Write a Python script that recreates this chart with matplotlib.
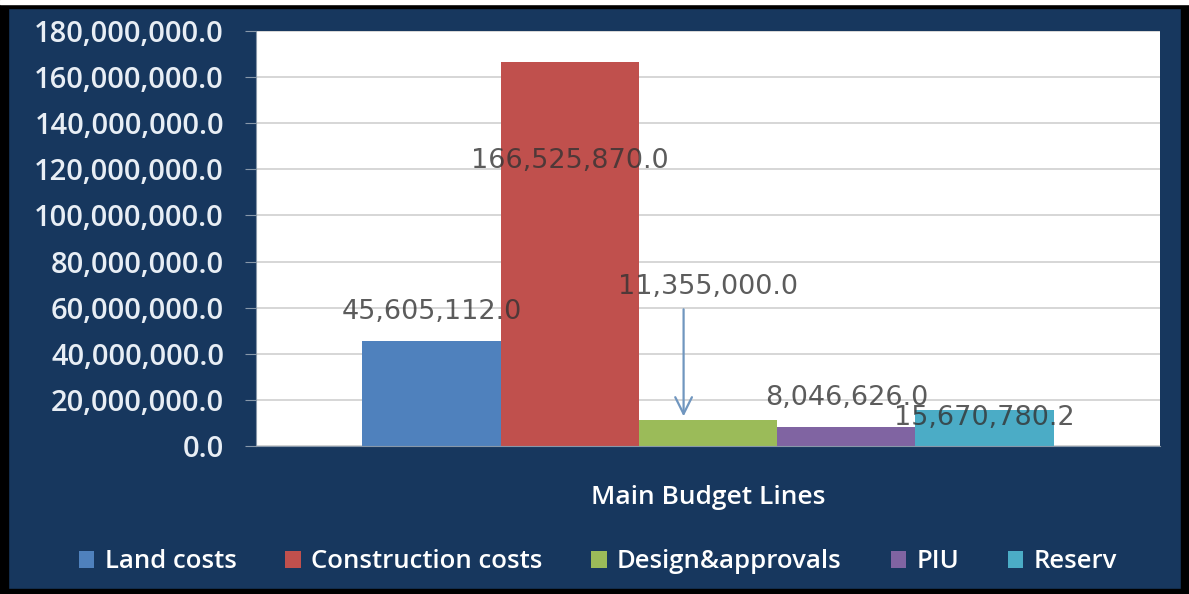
import matplotlib.pyplot as plt
from matplotlib.patches import Rectangle
from matplotlib.ticker import FuncFormatter

# Budget lines and amounts
categorias = ["Land costs", "Construction costs", "Design&approvals", "PIU", "Reserv"]
montos = [45605112.0, 166525870.0, 11355000.0, 8046626.0, 15670780.2]
colores = ["#4f81bd", "#c0504d", "#9bbb59", "#8064a2", "#4bacc6"]
grupo = "Main Budget Lines"

# height where each value label sits
altura_etiqueta = [58e6, 123.8e6, 68.8e6, 20.8e6, 12.1e6]

fondo = "#17375e"
W, H = 1189, 594

fig = plt.figure(figsize=(W / 100, H / 100), dpi=100)
fig.patch.set_facecolor(fondo)

# black frame and white strip on top
fig.patches.append(Rectangle((0, 0), 8 / W, 1, transform=fig.transFigure, color="black", zorder=0))
fig.patches.append(Rectangle((1181 / W, 0), 8 / W, 1, transform=fig.transFigure, color="black", zorder=0))
fig.patches.append(Rectangle((0, 0), 1, 5 / H, transform=fig.transFigure, color="black", zorder=0))
fig.patches.append(Rectangle((0, 1 - 8 / H), 1, 8 / H, transform=fig.transFigure, color="black", zorder=0))
fig.patches.append(Rectangle((0, 1 - 4 / H), 1, 4 / H, transform=fig.transFigure, color="white", zorder=0))

ax = fig.add_axes([256 / W, 1 - 446 / H, 904 / W, 415 / H])
ax.set_facecolor("white")

ancho = 0.153
for i in range(len(categorias)):
    x = (i - 2) * ancho
    ax.bar(x, montos[i], width=ancho, color=colores[i], label=categorias[i], zorder=2)
    ax.text(x, altura_etiqueta[i], f"{montos[i]:,.1f}", ha="center", va="center",
            fontsize=19.5, color="#333333", alpha=0.8, zorder=4, family="DejaVu Sans")

# arrow pointing to the design bar
ax.annotate("", xy=(-0.027, montos[2] + 0.3e6), xytext=(-0.027, 60.5e6),
            arrowprops=dict(arrowstyle="->", color="#7096bf", lw=1.6, mutation_scale=30),
            zorder=5)

ax.set_xlim(-0.5, 0.5)
ax.set_ylim(0, 180e6)
ax.set_yticks([i * 20e6 for i in range(10)])
ax.yaxis.set_major_formatter(FuncFormatter(lambda v, p: f"{v:,.1f}"))
ax.grid(axis="y", color="#d0d0d0", lw=1.2, zorder=1)
ax.set_xticks([0])
ax.set_xticklabels([grupo])
ax.tick_params(axis="x", length=0, pad=28, labelsize=19, labelcolor="white")
ax.tick_params(axis="y", length=8, color="#8898aa", labelsize=21, labelcolor="#e8eef5", pad=15)
for lab in ax.get_yticklabels() + ax.get_xticklabels():
    lab.set_family("Open Sans")
    lab.set_weight("semibold")
for s in ["top", "right"]:
    ax.spines[s].set_visible(False)
ax.spines["left"].set_color("#8898aa")
ax.spines["bottom"].set_color("#8898aa")

ley = fig.legend(loc="center", bbox_to_anchor=(598 / W, 1 - 562 / H), ncol=5, frameon=False,
                 handlelength=0.6, handleheight=0.6, handletextpad=0.4, columnspacing=1.9,
                 prop={"family": "Open Sans", "size": 18.5, "weight": "semibold"})
for t in ley.get_texts():
    t.set_color("white")

fig.savefig("out.png", dpi=100, facecolor=fondo)
